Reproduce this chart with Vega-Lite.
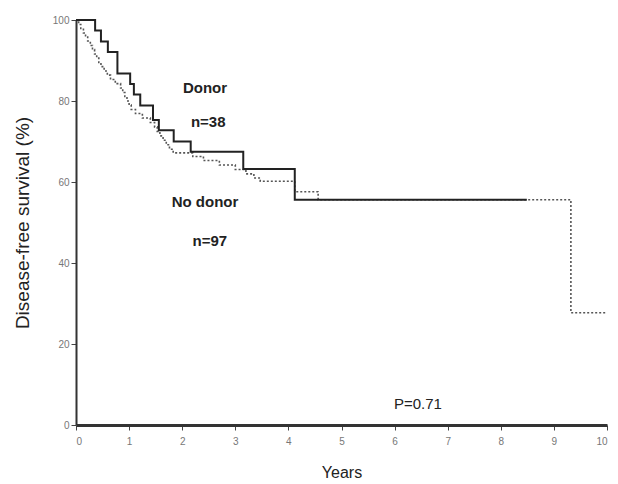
{
  "$schema": "https://vega.github.io/schema/vega-lite/v6.json",
  "width": 531,
  "height": 405,
  "autosize": "none",
  "padding": {"left": 76, "top": 20, "right": 11, "bottom": 59},
  "background": "white",
  "config": {
    "view": {"stroke": null},
    "axis": {
      "grid": false,
      "domainColor": "#333",
      "tickColor": "#444",
      "labelColor": "#777",
      "labelFont": "Liberation Sans",
      "labelFontSize": 10,
      "titleFont": "Liberation Sans",
      "titleFontWeight": "normal",
      "titleColor": "#222",
      "tickSize": 5
    }
  },
  "datasets": {
    "donor": [
      {"years": 0, "survival": 100},
      {"years": 0.36, "survival": 97.4},
      {"years": 0.47, "survival": 94.7},
      {"years": 0.6, "survival": 92.1},
      {"years": 0.78, "survival": 86.8},
      {"years": 1.02, "survival": 84.2},
      {"years": 1.09, "survival": 81.6},
      {"years": 1.21, "survival": 78.9},
      {"years": 1.45, "survival": 75.3},
      {"years": 1.56, "survival": 72.8},
      {"years": 1.84, "survival": 70.0},
      {"years": 2.16, "survival": 67.5},
      {"years": 3.15, "survival": 63.2},
      {"years": 4.12, "survival": 55.6},
      {"years": 8.49, "survival": 55.6}
    ],
    "nodonor": [
      {"years": 0, "survival": 100},
      {"years": 0.05, "survival": 98.9},
      {"years": 0.09, "survival": 97.9},
      {"years": 0.14, "survival": 96.8},
      {"years": 0.18, "survival": 95.8},
      {"years": 0.22, "survival": 94.8},
      {"years": 0.27, "survival": 93.7},
      {"years": 0.31, "survival": 92.7},
      {"years": 0.35, "survival": 91.6},
      {"years": 0.39, "survival": 90.6},
      {"years": 0.43, "survival": 89.5},
      {"years": 0.47, "survival": 88.5},
      {"years": 0.53, "survival": 87.4},
      {"years": 0.59, "survival": 86.4},
      {"years": 0.65, "survival": 85.3},
      {"years": 0.74, "survival": 84.3},
      {"years": 0.84, "survival": 83.2},
      {"years": 0.88, "survival": 82.1},
      {"years": 0.92, "survival": 81.1},
      {"years": 0.96, "survival": 80.0},
      {"years": 1.0, "survival": 79.0},
      {"years": 1.04, "survival": 77.9},
      {"years": 1.12, "survival": 76.9},
      {"years": 1.25, "survival": 75.8},
      {"years": 1.4, "survival": 74.7},
      {"years": 1.48, "survival": 73.6},
      {"years": 1.53, "survival": 72.5},
      {"years": 1.58, "survival": 71.4},
      {"years": 1.64, "survival": 70.3},
      {"years": 1.7, "survival": 69.2},
      {"years": 1.76, "survival": 68.1},
      {"years": 1.83, "survival": 67.2},
      {"years": 2.2, "survival": 66.3},
      {"years": 2.4, "survival": 65.3},
      {"years": 2.7, "survival": 64.2},
      {"years": 3.0, "survival": 63.1},
      {"years": 3.2, "survival": 62.0},
      {"years": 3.35, "survival": 61.0},
      {"years": 3.47, "survival": 60.2},
      {"years": 4.12, "survival": 57.6},
      {"years": 4.56, "survival": 55.6},
      {"years": 9.32, "survival": 27.7},
      {"years": 10.0, "survival": 27.7}
    ],
    "labels": [
      {"years": 2.43, "survival": 83.2, "text": "Donor", "bold": "yes"},
      {"years": 2.49, "survival": 74.8, "text": "n=38", "bold": "yes"},
      {"years": 2.43, "survival": 55.1, "text": "No donor", "bold": "yes"},
      {"years": 2.52, "survival": 45.4, "text": "n=97", "bold": "yes"},
      {"years": 6.44, "survival": 5.2, "text": "P=0.71", "bold": "no"}
    ]
  },
  "encoding": {
    "x": {
      "field": "years",
      "type": "quantitative",
      "scale": {"domain": [0, 10], "nice": false},
      "axis": {
        "title": "Years",
        "values": [0, 1, 2, 3, 4, 5, 6, 7, 8, 9, 10],
        "titleFontSize": 16,
        "titleY": 47,
        "titleBaseline": "middle",
        "domainWidth": 3,
        "labelPadding": 6
      }
    },
    "y": {
      "field": "survival",
      "type": "quantitative",
      "scale": {"domain": [0, 100], "nice": false},
      "axis": {
        "title": "Disease-free survival (%)",
        "values": [0, 20, 40, 60, 80, 100],
        "titleFontSize": 19,
        "titleX": -44,
        "domainWidth": 2,
        "labelPadding": 2
      }
    }
  },
  "layer": [
    {
      "data": {"name": "nodonor"},
      "mark": {"type": "line", "interpolate": "step-after", "color": "#555", "strokeWidth": 1.6, "strokeDash": [2, 2]}
    },
    {
      "data": {"name": "donor"},
      "mark": {"type": "line", "interpolate": "step-after", "color": "#222", "strokeWidth": 2}
    },
    {
      "data": {"name": "labels"},
      "transform": [{"filter": "datum.bold == 'yes'"}],
      "mark": {"type": "text", "font": "Liberation Sans", "fontSize": 15, "fontWeight": "bold", "color": "#222", "baseline": "middle", "align": "center"},
      "encoding": {"text": {"field": "text"}}
    },
    {
      "data": {"name": "labels"},
      "transform": [{"filter": "datum.bold == 'no'"}],
      "mark": {"type": "text", "font": "Liberation Sans", "fontSize": 15, "color": "#222", "baseline": "middle", "align": "center"},
      "encoding": {"text": {"field": "text"}}
    }
  ]
}
